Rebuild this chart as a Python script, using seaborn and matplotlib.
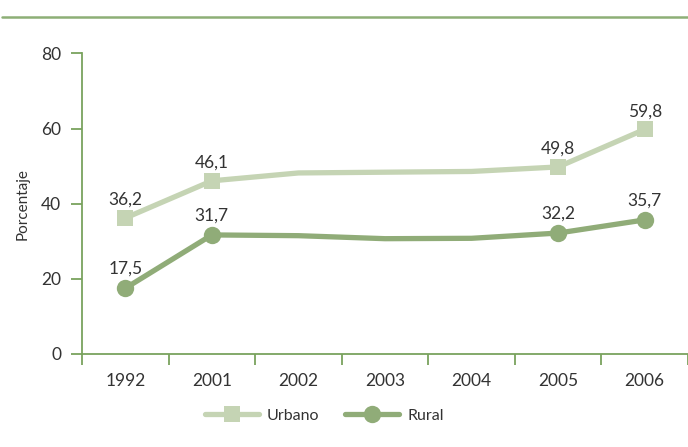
import matplotlib
matplotlib.use("Agg")
import matplotlib.pyplot as plt
from matplotlib.lines import Line2D
from matplotlib.ticker import FixedLocator
import seaborn as sns
import pandas as pd

# Data
years = ["1992", "2001", "2002", "2003", "2004", "2005", "2006"]
urbano = [36.2, 46.1, 48.2, 48.4, 48.6, 49.8, 59.8]
rural = [17.5, 31.7, 31.5, 30.7, 30.8, 32.2, 35.7]
labelled = [0, 1, 5, 6]  # years that carry a marker and value label

GREEN_AXIS = "#79a35e"
GREEN_TOP = "#8daf76"
C_URB = "#c5d4b4"
C_RUR = "#90ac78"
TXT = "#333333"

sns.set_theme(style="white")
plt.rcParams["font.family"] = ["Lato", "DejaVu Sans"]

fig = plt.figure(figsize=(6.88, 4.47), dpi=100)
ax = fig.add_axes([82 / 688, 1 - 354 / 447, 606 / 688, (354 - 53.5) / 447])

df = pd.DataFrame({"x": range(len(years)), "Urbano": urbano, "Rural": rural})

sns.lineplot(data=df, x="x", y="Urbano", ax=ax, color=C_URB, lw=3.8,
             marker="s", markersize=12, markeredgewidth=0, markevery=labelled,
             label="Urbano")
sns.lineplot(data=df, x="x", y="Rural", ax=ax, color=C_RUR, lw=3.8,
             marker="o", markersize=12.5, markeredgewidth=0, markevery=labelled,
             label="Rural")

def fmt(v):
    return f"{v:.1f}".replace(".", ",")

for i in labelled:
    ax.annotate(fmt(urbano[i]), (i, urbano[i]), xytext=(0, 13), textcoords="offset points",
                ha="center", va="center", fontsize=12.5, color=TXT)
    ax.annotate(fmt(rural[i]), (i, rural[i]), xytext=(0, 14), textcoords="offset points",
                ha="center", va="center", fontsize=12.5, color=TXT)

ax.set_xlim(-0.5, len(years) - 0.5)
ax.set_ylim(0, 80)
ax.set_yticks([0, 20, 40, 60, 80])
ax.set_xticks(range(len(years)))
ax.set_xticklabels(years)
ax.xaxis.set_minor_locator(FixedLocator([i - 0.5 for i in range(len(years) + 1)]))
ax.tick_params(axis="x", which="major", bottom=True, length=0, pad=14,
               labelsize=12.5, labelcolor=TXT)
ax.tick_params(axis="x", which="minor", bottom=True, length=8, width=1.3,
               color=GREEN_AXIS, direction="out")
ax.tick_params(axis="y", which="major", left=True, length=8, width=1.3,
               color=GREEN_AXIS, direction="out", pad=7, labelsize=12.5, labelcolor=TXT)
ax.set_xlabel("")
ax.set_ylabel("Porcentaje", fontsize=11, color=TXT, labelpad=8)

for side in ["top", "right"]:
    ax.spines[side].set_visible(False)
for side in ["left", "bottom"]:
    ax.spines[side].set_color(GREEN_AXIS)
    ax.spines[side].set_linewidth(1.3)
ax.spines["left"].set_bounds(0, 80)

ax.legend(loc="center", bbox_to_anchor=(0.40, -0.205), ncol=2, frameon=False,
          fontsize=11.5, handlelength=3.4, columnspacing=1.6, handletextpad=0.5,
          labelcolor=TXT)

# Green rule across the top of the figure
fig.add_artist(Line2D([2 / 688, 1.0], [1 - 17 / 447, 1 - 17 / 447],
                      transform=fig.transFigure, color=GREEN_TOP, lw=1.8))

fig.savefig("out.png", dpi=100)
